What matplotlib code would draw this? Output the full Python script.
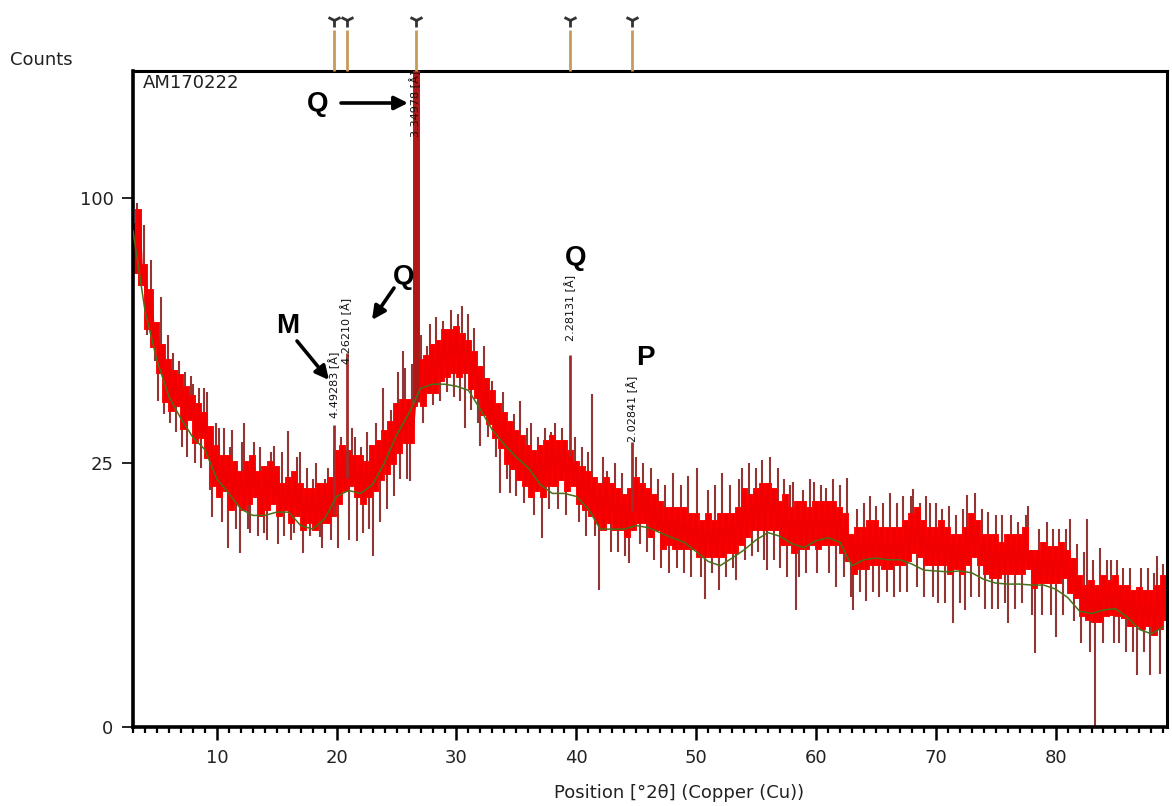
import numpy as np
import matplotlib
matplotlib.use("Agg")
import matplotlib.pyplot as plt
from matplotlib.ticker import MultipleLocator, NullLocator, FixedLocator

# ---------------- data ----------------
scan_start, scan_step = 3.0, 0.25
counts = [
    90, 74, 95, 70,   76, 57, 68, 52,   58, 45, 52, 38,   48, 36, 45, 37,    # 3-6
    44, 32, 41, 34,   39, 29, 37, 30,   35, 26, 32, 21,   28, 19, 26, 20,    # 7-10
    26, 17, 25, 18,   23, 17, 25, 18,   26, 19, 23, 16,   24, 17, 25, 18,    # 11-14
    24, 16, 21, 17,   22, 15, 23, 16,   21, 14, 20, 15,   20, 14, 21, 15,    # 15-18
    21, 15, 22, 16,   27, 18, 28, 20,   27, 21, 26, 19,   26, 18, 25, 19,    # 19-22
    28, 20, 29, 22,   31, 23, 33, 25,   37, 27, 38, 29,   38, 29, 37, 39,    # 23-26
    48, 37, 49, 40,   52, 40, 53, 43,   56, 44, 56, 45,   57, 44, 55, 45,    # 27-30
    53, 41, 50, 39,   46, 35, 43, 33,   40, 30, 37, 28,   35, 25, 33, 24,    # 31-34
    31, 22, 30, 21,   28, 19, 27, 20,   28, 19, 29, 21,   30, 21, 29, 22,    # 35-38
    29, 20, 27, 21,   25, 18, 24, 17,   23, 16, 22, 15,   21, 14, 22, 15,    # 39-42
    21, 14, 20, 14,   19, 13, 20, 14,   22, 15, 21, 15,   20, 13, 19, 14,    # 43-46
    18, 11.5, 17, 12, 17, 11.5, 17, 11.5, 17, 11.5, 16, 11.5, 16, 10.5, 15, 10.5,  # 47-50
    16, 10.5, 15, 10.5, 16, 10.5, 16, 11, 16, 11, 17, 12,  20, 13, 19, 14,    # 51-54
    20, 14, 21, 14,   21, 14, 20, 14,   18, 12, 19, 12,   17, 11, 18, 11.5,  # 55-58
    18, 11.5, 17, 12, 18, 11.5, 18, 12, 18, 12, 18, 12,   17, 11, 16, 10,    # 59-62
    13, 8.5, 14, 9,   14, 9, 15, 9.5,   15, 9.5, 14, 9,   14, 9, 14, 9.5,    # 63-66
    14, 9.5, 15, 10,  16, 11, 17, 10.5, 15, 9.5, 14, 9.5, 14, 9.5, 15, 9.5,  # 67-70
    14, 8.5, 13, 9,   13, 8.5, 14, 9.5, 16, 10.5, 15, 9.5, 13, 8.5, 13, 8,   # 71-74
    13, 8, 12, 8.5,   13, 8.5, 13, 8.5, 13, 8.5, 14, 9,   11, 7, 11, 7.5,    # 75-78
    12, 7.5, 11.5, 7.5, 11.5, 7.5, 12, 8, 11, 6.5, 10, 6,  8, 4.5, 7, 4.2,   # 79-82
    7.5, 4, 7, 4,     8, 4.5, 7.5, 4.6, 8, 4.5, 7, 4.3,   7, 3.7, 6.5, 3.7,  # 83-86
    6.8, 3.5, 6.5, 3.7, 6.5, 3.1, 7, 3.5, 8, 4.2,                          # 87-89.25
]

spikes = [
    (3.3, 98), (3.6, 72), (3.9, 90), (4.2, 55), (4.5, 78), (4.8, 48), (5.1, 38), (5.3, 66),
    (5.6, 35), (5.9, 55), (6.1, 33), (6.35, 50), (6.6, 31), (6.8, 48), (7.1, 28), (7.3, 45),
    (7.5, 26), (7.8, 44), (8.0, 42), (8.2, 25), (8.5, 41), (8.7, 24), (8.9, 41), (9.2, 40),
    (9.4, 20), (9.6, 15.7), (9.9, 33), (10.2, 32), (10.4, 15), (10.6, 32), (10.9, 11.5),
    (11.1, 28), (11.3, 31.5), (11.6, 14), (11.9, 10.8), (12.1, 29), (12.3, 33), (12.6, 14),
    (12.8, 13.4), (13.1, 29), (13.4, 13), (13.6, 28), (13.9, 13.5), (14.2, 12.5), (14.5, 27),
    (14.8, 28.3), (15.1, 12), (15.4, 27), (15.6, 13), (15.9, 31.4), (16.2, 12.5), (16.4, 13.4),
    (16.7, 26), (16.9, 27), (17.2, 10.8), (17.5, 24), (17.8, 13), (18.0, 22), (18.3, 25),
    (18.6, 12.9), (18.8, 11.5), (19.0, 22), (19.3, 24), (19.5, 12.5), (20.1, 11.5), (20.4, 30),
    (21.0, 12.5), (21.3, 32), (21.5, 30), (21.7, 12.4), (22.0, 28), (22.2, 13.4), (22.5, 31),
    (22.7, 14), (23.0, 10.5), (23.3, 33), (23.6, 15), (23.9, 41), (24.2, 17), (24.5, 36),
    (24.8, 19), (25.1, 45), (25.3, 22), (25.5, 50.6), (25.7, 46), (25.9, 22), (26.1, 21.7),
    (26.3, 47), (27.0, 55), (27.2, 33), (27.5, 52), (27.8, 58), (28.0, 37), (28.3, 60),
    (28.6, 38), (28.9, 59), (29.2, 40), (29.5, 62), (29.8, 39), (30.1, 61), (30.3, 38),
    (30.5, 63.4), (30.7, 32), (31.0, 61), (31.2, 36), (31.5, 57), (31.8, 33), (32.0, 28.3),
    (32.3, 52), (32.6, 30), (33.0, 42.9), (33.3, 26), (33.6, 19.5), (33.9, 40), (34.2, 22),
    (34.5, 19.5), (34.8, 35), (35.0, 19), (35.3, 38), (35.6, 18), (35.9, 32), (36.2, 33),
    (36.5, 16), (36.8, 30), (37.1, 12.7), (37.4, 32), (37.7, 17), (37.9, 31), (38.2, 33),
    (38.5, 17), (38.8, 32), (39.1, 16), (39.9, 30), (40.2, 15), (40.5, 28), (40.8, 13),
    (41.0, 27), (41.3, 39.7), (41.6, 13), (41.9, 6.7), (42.2, 26), (42.6, 23.5), (42.9, 11),
    (43.2, 25), (43.5, 11), (43.8, 23), (44.1, 10.5), (44.4, 9.6), (45.0, 26), (45.3, 12),
    (45.6, 25), (45.9, 11), (46.2, 24), (46.5, 10), (46.8, 22), (47.1, 9), (47.4, 21),
    (47.7, 8.5), (48.1, 23.1), (48.4, 9), (48.7, 21), (49.0, 8.5), (49.3, 22.5), (49.6, 8),
    (50.1, 24), (50.4, 8), (50.7, 5.9), (51.0, 20), (51.3, 8.5), (51.6, 21), (51.9, 6.7),
    (52.2, 23), (52.5, 8), (52.8, 21), (53.1, 9), (53.3, 7.7), (53.6, 22), (53.8, 24),
    (54.1, 10), (54.4, 25), (54.7, 10.5), (55.0, 24), (55.2, 11), (55.5, 25.4), (55.7, 10),
    (55.9, 8.8), (56.2, 26.1), (56.5, 10), (56.8, 24), (57.0, 9), (57.3, 22), (57.6, 8),
    (57.8, 21), (58.1, 21.4), (58.3, 4.9), (58.6, 8), (58.9, 20), (59.2, 8.5), (59.5, 22),
    (59.8, 21.4), (60.1, 8.5), (60.4, 21), (60.8, 20.5), (61.1, 8.5), (61.4, 22), (61.7, 7),
    (62.0, 21), (62.3, 8), (62.6, 22.2), (62.9, 6), (63.1, 4.9), (63.4, 17), (63.7, 6.5),
    (64.0, 18), (64.2, 5.7), (64.5, 19), (64.8, 6.5), (65.0, 17.5), (65.3, 6), (65.6, 18),
    (65.9, 6.5), (66.2, 19.5), (66.5, 6), (66.8, 18), (67.0, 6.5), (67.3, 19), (67.6, 6.5),
    (67.9, 19), (68.1, 20.3), (68.4, 7), (68.7, 18), (69.0, 6), (69.2, 19), (69.5, 18),
    (69.8, 6), (70.0, 18), (70.2, 5.5), (70.5, 17), (70.8, 5.5), (71.1, 17.5), (71.4, 3.9),
    (71.7, 16), (72.0, 5.5), (72.3, 17), (72.4, 4.9), (72.6, 19.2), (72.9, 6), (73.3, 19.5),
    (73.6, 6), (73.9, 17), (74.1, 5), (74.4, 16.5), (74.7, 5), (75.0, 16), (75.2, 5),
    (75.5, 16), (75.8, 5.5), (76.0, 3.9), (76.3, 16), (76.6, 5), (76.9, 15), (77.2, 5.5),
    (77.5, 16), (77.7, 17.5), (78.0, 4.5), (78.3, 1.95), (78.6, 14), (78.9, 4.5), (79.3, 15),
    (79.6, 4.5), (79.8, 14), (80.0, 2.9), (80.3, 14), (80.6, 4.5), (80.9, 14), (81.2, 15.5),
    (81.5, 4), (81.8, 12), (82.1, 2.5), (82.4, 11), (82.6, 15.5), (82.9, 2), (83.1, 10),
    (83.3, 0), (83.7, 11.5), (84.0, 2.5), (84.3, 10), (84.6, 10), (84.9, 2.5), (85.1, 10),
    (85.3, 2.5), (85.6, 9), (85.9, 2), (86.2, 9), (86.5, 2), (86.8, 0.96), (87.1, 9),
    (87.4, 2), (87.7, 9), (87.9, 0.96), (88.2, 8.5), (88.5, 10.5), (88.7, 1.0), (89.0, 9.5),
]

peak_pos = [19.75, 20.83, 26.59, 39.47, 44.64]
peak_top = [32.5, 50, 190, 49.5, 29]
peak_labels = ["4.49283 [Å]", "4.26210 [Å]", "3.34978 [Å]", "2.28131 [Å]", "2.02841 [Å]"]

bg_start = 3
bg_counts = [88, 62, 48, 39, 34, 30, 27.5, 22, 19.5, 17, 16, 16, 16.5, 16.5, 14.5, 14,
             15.5, 19, 20, 19.5, 21, 25, 30.5, 35, 41, 42, 42, 41.5, 40.5, 36, 31.5,
             28.5, 26, 24, 21, 19.5, 19.5, 19, 17, 14, 14, 14, 14.5, 14.2, 13.5, 12.8,
             12.2, 11, 9.8, 9.3, 10.2, 11.2, 12.5, 13.5, 13, 12, 11.5, 12.4, 12.8, 12.2,
             9.3, 10, 10.2, 10, 10, 9.5, 8.8, 8.7, 8.6, 8.7, 8.5, 7.8, 7.4, 7.3, 7.3,
             7.2, 7.2, 6.8, 6, 4.8, 4.6, 4.9, 5, 4.3, 3.4, 3.1, 3.6]

ref_pos = [19.75, 20.83, 26.59, 39.47, 44.64]

sample_name = "AM170222"
y_ticks = [0, 25, 100]
x_ticks = [10, 20, 30, 40, 50, 60, 70, 80]

# ---------------- figure ----------------
W, H = 1172, 806
fig = plt.figure(figsize=(W / 100, H / 100), dpi=100)
L, R, T, B = 133, 1167, 71, 727
ax = fig.add_axes([L / W, 1 - B / H, (R - L) / W, (B - T) / H])

fwd = lambda v: np.sqrt(np.clip(v, 0, None))
inv = lambda v: np.square(v)
ax.set_yscale('function', functions=(fwd, inv))
ax.set_xlim(3.0, 89.3)
ax.set_ylim(0, 153.8)

x = scan_start + scan_step * np.arange(len(counts))
cnt = np.array(counts, dtype=float)
sp_x = np.array([p for p, _ in spikes])
sp_y = np.array([v for _, v in spikes])

# spikes (behind the band)
base = np.interp(sp_x, x, cnt)
ax.vlines(sp_x, base, sp_y, color='#933535', lw=1.5, zorder=2)
# band: step trace plus straight trace so the band reads as solid red
ax.plot(x, cnt, drawstyle='steps-mid', color='#ff0000', lw=2.8, zorder=2.2,
        solid_joinstyle='miter')
ax.plot(x, cnt, color='#f00000', lw=2.2, zorder=2.3)
# peaks
pbase = np.interp(peak_pos, x, cnt)
ax.vlines(peak_pos, pbase, peak_top, color='#a02c2c', lw=2.0, zorder=2.6)
imax = int(np.argmax(peak_top))
ax.vlines([peak_pos[imax]], [pbase[imax]], [peak_top[imax]], color='#b01818', lw=5, zorder=2.6)
# background
bx = bg_start + np.arange(len(bg_counts))
ax.plot(bx, bg_counts, color='#46701a', lw=1.1, zorder=3)

# axes styling
for s in ['left', 'bottom']:
    ax.spines[s].set_linewidth(2.6)
for s in ['top', 'right']:
    ax.spines[s].set_linewidth(2.2)
ax.yaxis.set_major_locator(FixedLocator(y_ticks))
ax.yaxis.set_minor_locator(NullLocator())
ax.set_yticklabels([str(v) for v in y_ticks])
ax.xaxis.set_major_locator(FixedLocator(x_ticks))
ax.xaxis.set_minor_locator(MultipleLocator(1))
ax.tick_params(axis='y', which='major', direction='out', length=8, width=1.2, pad=6, labelsize=13)
ax.tick_params(axis='x', which='major', direction='out', length=9, width=1.8, pad=7, labelsize=13)
ax.tick_params(axis='x', which='minor', direction='out', length=4, width=1.6)
for lbl in ax.get_xticklabels() + ax.get_yticklabels():
    lbl.set_color('#222222')

# reference markers above the plot
tr = ax.get_xaxis_transform()
ax.vlines(ref_pos, 1.0, 1.063, transform=tr, clip_on=False, color='#c89a58', lw=2.0, zorder=5)
ax.plot(ref_pos, [1.077] * len(ref_pos), transform=tr, clip_on=False, ls='none',
        marker='1', ms=10, mew=2.0, color='#333333', zorder=6)

# texts
fig.text(10 / W, 1 - 60 / H, "Counts", fontsize=13, color='#222222', va='center', ha='left')
ax.text(0.01, 0.995, sample_name, transform=ax.transAxes, fontsize=13, color='#222222',
        va='top', ha='left')
fig.text(679 / W, 1 - 793 / H, "Position [°2θ] (Copper (Cu))", fontsize=13, color='#222222',
         ha='center', va='center')

# d-spacing labels
lab_font = dict(fontsize=8, rotation=90, ha='center', va='bottom', color='#111111', zorder=7)
offsets = [5, -8, None, 10, 0]
for p, t, s, o in zip(peak_pos, peak_top, peak_labels, offsets):
    if o is None:
        ax.text(p, 0.899, s, transform=tr, **lab_font)
    else:
        ax.annotate(s, xy=(p, t), xytext=(0, o), textcoords='offset points', **lab_font)

# bold phase letters with arrows (figure pixels)
def fp(px, py):
    return (px, H - py)

def ff(px, py):
    return (px / W, 1 - py / H)

bold = dict(fontsize=20, fontweight='bold', family='Liberation Sans', color='black',
            ha='center', va='center')
arrow = dict(arrowstyle='-|>', lw=2.6, color='black', mutation_scale=20, shrinkA=0, shrinkB=0)
fig.text(*ff(318, 104), "Q", **bold)
ax.annotate("", xy=fp(408, 103), xytext=fp(341, 103), xycoords='figure pixels',
            textcoords='figure pixels', arrowprops=arrow, annotation_clip=False)
fig.text(*ff(404, 277), "Q", **bold)
ax.annotate("", xy=fp(372, 320), xytext=fp(394, 288), xycoords='figure pixels',
            textcoords='figure pixels', arrowprops=arrow, annotation_clip=False)
fig.text(*ff(288, 326), "M", **bold)
ax.annotate("", xy=fp(329, 380), xytext=fp(297, 341), xycoords='figure pixels',
            textcoords='figure pixels', arrowprops=arrow, annotation_clip=False)
fig.text(*ff(576, 258), "Q", **bold)
fig.text(*ff(645, 358), "P", **bold)

fig.savefig("out.png", dpi=100)
